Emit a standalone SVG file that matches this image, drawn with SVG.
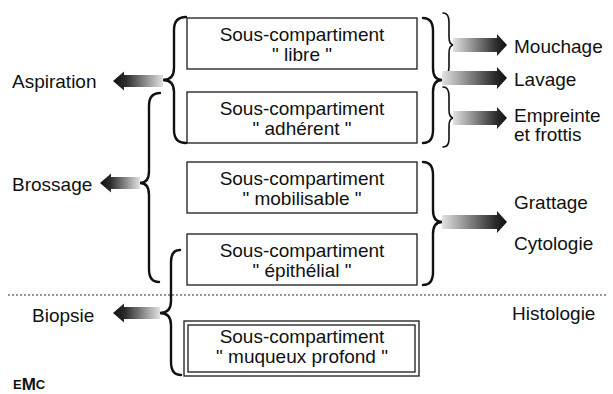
<svg xmlns="http://www.w3.org/2000/svg" width="613" height="394" viewBox="0 0 613 394">
<style>
.box{fill:#fff;stroke:#1a1a1a;stroke-width:1.3}
.bt{font-family:"Liberation Sans",Arial,sans-serif;font-size:19px;fill:#111;text-anchor:middle}
.lb{font-family:"Liberation Sans",Arial,sans-serif;font-size:19px;fill:#111}
.br{fill:none;stroke:#111;stroke-width:2.4;stroke-linecap:round;stroke-linejoin:round}
.brs{fill:none;stroke:#111;stroke-width:1.6;stroke-linecap:round;stroke-linejoin:round}
</style>
<defs>
<linearGradient id="gl" x1="0" y1="0" x2="1" y2="0">
<stop offset="0" stop-color="#111"/><stop offset="0.25" stop-color="#2a2a2a"/><stop offset="1" stop-color="#e2e2e2"/>
</linearGradient>
<linearGradient id="gr" x1="1" y1="0" x2="0" y2="0">
<stop offset="0" stop-color="#111"/><stop offset="0.18" stop-color="#2a2a2a"/><stop offset="1" stop-color="#e2e2e2"/>
</linearGradient>
</defs>

<g id="n-libre"><rect class="box" x="187" y="18" width="230" height="51"/><text class="bt" x="302" y="41">Sous-compartiment</text><text class="bt" x="302" y="61">" libre "</text></g>
<g id="n-adherent"><rect class="box" x="187" y="92" width="230" height="51"/><text class="bt" x="302" y="115">Sous-compartiment</text><text class="bt" x="302" y="135">" adhérent "</text></g>
<g id="n-mobilisable"><rect class="box" x="187" y="162" width="230" height="51"/><text class="bt" x="302" y="185">Sous-compartiment</text><text class="bt" x="302" y="205">" mobilisable "</text></g>
<g id="n-epithelial"><rect class="box" x="187" y="234" width="230" height="51"/><text class="bt" x="302" y="257">Sous-compartiment</text><text class="bt" x="302" y="277">" épithélial "</text></g>
<g id="n-muqueux"><rect class="box" x="184" y="321" width="235" height="55"/><rect class="box" x="188" y="325" width="227" height="47"/><text class="bt" x="302" y="343">Sous-compartiment</text><text class="bt" x="302" y="363">" muqueux profond "</text></g>

<g id="n-aspiration"><text class="lb" x="12" y="88">Aspiration</text></g>
<g id="n-brossage"><text class="lb" x="12" y="191">Brossage</text></g>
<g id="n-biopsie"><text class="lb" x="32" y="322">Biopsie</text></g>
<g id="n-mouchage"><text class="lb" x="514" y="53">Mouchage</text></g>
<g id="n-lavage"><text class="lb" x="514" y="86">Lavage</text></g>
<g id="n-empreinte"><text class="lb" x="514" y="122">Empreinte</text><text class="lb" x="514" y="141">et frottis</text></g>
<g id="n-grattage"><text class="lb" x="514" y="209">Grattage</text></g>
<g id="n-cytologie"><text class="lb" x="514" y="250">Cytologie</text></g>
<g id="n-histologie"><text class="lb" x="512" y="320">Histologie</text></g>

<g id="connectors">
<line x1="8" y1="295" x2="608" y2="295" stroke="#777" stroke-width="1.6" stroke-dasharray="2 2"/>
<path class="br" d="M186 17 Q174 17 174 30 L174 68 Q174 80 163 80 Q174 80 174 92 L174 130 Q174 143 186 143"/>
<path class="br" d="M160 93 Q149 93 149 106 L149 171 Q149 183 140 183 Q149 183 149 195 L149 269 Q149 282 159 282"/>
<path class="br" d="M180 250 Q171 250 171 262 L171 301 Q171 313 160 313 Q171 313 171 325 L171 362 Q171 375 181 375"/>
<path class="br" d="M423 18 Q433 18 433 31 L433 68 Q433 80 442 80 Q433 80 433 92 L433 130 Q433 143 423 143"/>
<path class="brs" d="M443 13 Q449 13 449 22 L449 37 Q449 45 454 45 Q449 45 449 53 L449 67 Q449 75 443 75"/>
<path class="brs" d="M443 87 Q449 87 449 96 L449 110 Q449 118 454 118 Q449 118 449 126 L449 139 Q449 147 443 147"/>
<path class="br" d="M423 162 Q433 162 433 175 L433 210 Q433 222 442 222 Q433 222 433 234 L433 272 Q433 285 423 285"/>
<polygon fill="url(#gl)" points="113,81 124,71.5 124,75 163,75 163,87 124,87 124,90.5"/>
<polygon fill="url(#gl)" points="100,183 111,173.5 111,177 140,177 140,189 111,189 111,192.5"/>
<polygon fill="url(#gl)" points="113,313 124,303.5 124,307 160,307 160,319 124,319 124,322.5"/>
<polygon fill="url(#gr)" points="507,45 497,34 497,38 453,38 453,52 497,52 497,56"/>
<polygon fill="url(#gr)" points="507,78 497,67 497,71 442,71 442,85 497,85 497,89"/>
<polygon fill="url(#gr)" points="507,118 497,107 497,111 453,111 453,125 497,125 497,129"/>
<polygon fill="url(#gr)" points="507,222 497,211 497,215 442,215 442,229 497,229 497,233"/>
</g>

<g id="logo"><text x="13" y="389" font-family="'Liberation Sans Narrow','Liberation Sans',sans-serif" font-weight="bold" font-size="13" fill="#111">E<tspan font-size="17" dy="1">M</tspan><tspan dy="-1">C</tspan></text></g>
</svg>
